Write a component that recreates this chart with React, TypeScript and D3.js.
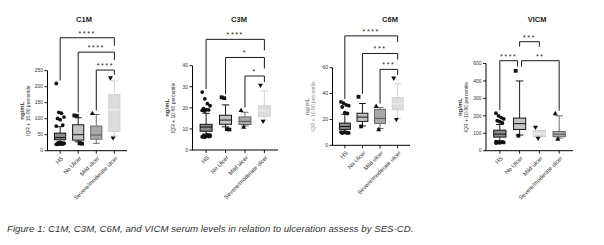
import React from "react";
import * as d3 from "d3";

// ---------- DATA ----------
const groups = ["HS", "No Ulcer", "Mild ulcer", "Severe/moderate ulcer"];

// [p10, q1, median, q3, p90]
const c1mBoxes = [
  [27, 34, 41, 55, 75],
  [28, 33, 50, 81, 103],
  [23, 36, 49, 77, 113],
  [46, 60, 128, 175, 218],
];
const c1mPoints = [
  [210, 120, 117, 105, 101, 97, 80, 77, 25, 24, 23, 22, 21, 21, 20, 24, 22, 23, 20],
  [110, 109, 23, 22],
  [116],
  [228, 40],
];
const c1mTicks = [0, 50, 100, 150, 200, 250];

const c3mBoxes = [
  [7.6, 8.9, 10.9, 12.2, 17.4],
  [11, 12.2, 14.2, 16.5, 21.4],
  [11.4, 12.1, 13.6, 15.7, 17.9],
  [14.2, 15.9, 18.6, 21, 28],
];
const c3mPoints = [
  [27.5, 24.3, 22, 21, 19.6, 19.2, 19, 18.8, 18.5, 7.2, 7, 6.8, 6.6, 6.4, 6.2, 6, 7.1, 6.5],
  [25, 24.6, 9.9, 9.7],
  [18.7, 10.8],
  [30.8, 13.7],
];
const c3mTicks = [0, 10, 20, 30, 40];

const c6mBoxes = [
  [10.6, 12.3, 14.5, 17.2, 24],
  [15, 18.5, 21.8, 24.8, 32.3],
  [13, 16.8, 20.8, 27.8, 29.2],
  [21, 27.5, 32, 37, 47.5],
];
const c6mPoints = [
  [33.5, 32.6, 31.2, 30.6, 29.6, 25.2, 24.6, 10.2, 10, 9.8, 9.6, 9.4, 10.1, 9.7],
  [37.5, 14.6],
  [30, 12],
  [52, 20],
];
const c6mTicks = [0, 20, 40, 60];

const vicmBoxes = [
  [56, 78, 95, 118, 150],
  [90, 122, 155, 187, 400],
  [80, 80, 100, 116, 116],
  [72, 80, 95, 110, 200],
];
const vicmPoints = [
  [215, 200, 190, 182, 172, 166, 160, 52, 50, 48, 47, 46, 45, 49, 44],
  [458, 86],
  [135, 72],
  [212, 66],
];
const vicmTicks = [0, 100, 200, 300, 400, 500];
const vicmTickLabels = ["0", "100", "200", "300", "400", "600"];

// comparisons: a, b = group index; level in data units
const c1mComps = [
  { a: 0, b: 3, label: "****", level: 353, legA: "max", legB: 8 },
  { a: 1, b: 3, label: "****", level: 308, legA: "max", legB: 8 },
  { a: 2, b: 3, label: "****", level: 252, legA: "max", legB: "max" },
];
const c3mComps = [
  { a: 0, b: 3, label: "****", level: 52.5, legA: "max", legB: 11 },
  { a: 1, b: 3, label: "*", level: 43.9, legA: "max", legB: 11 },
  { a: 2, b: 3, label: "*", level: 35.1, legA: "max", legB: "max" },
];
const c6mComps = [
  { a: 0, b: 3, label: "****", level: 84.6, legA: "max", legB: 6 },
  { a: 1, b: 3, label: "***", level: 71, legA: "max", legB: 6 },
  { a: 2, b: 3, label: "***", level: 58.7, legA: "max", legB: "max" },
];
const vicmComps = [
  { a: 0, b: 1, label: "****", level: 516, legA: "max", legB: 6, offB: -2 },
  { a: 1, b: 3, label: "**", level: 516, legA: 6, legB: "max", offA: 2 },
  { a: 1, b: 2, label: "***", level: 625, legA: 5, legB: 5 },
];

const caption =
  "Figure 1: C1M, C3M, C6M, and VICM serum levels in relation to ulceration assess by SES-CD.";

// ---------- STYLES / LAYOUT ----------
const dark = { fill: "#8a8a8a", stroke: "#000", med: "#000" };
const mid = { fill: "#c2c2c2", stroke: "#000", med: "#000" };
const gray = { fill: "#a9a9a9", stroke: "#5e5e5e", med: "#4a4a4a" };
const light = { fill: "#dcdcdc", stroke: "#cfcfcf", med: "#f4f4f4" };

const FONT = "'Liberation Sans', Arial, sans-serif";

const panels = [
  {
    title: "C1M", titleX: 84, boxes: c1mBoxes, points: c1mPoints, ticks: c1mTicks,
    tickLabels: c1mTicks.map(String), comps: c1mComps, max: 250,
    x0: 47.5, x1: 127, y0: 150.7, y1: 70.7,
    styles: [dark, mid, gray, light], shapes: ["circle", "square", "triUp", "triDown"],
    labColor: "#333",
  },
  {
    title: "C3M", titleX: 239, boxes: c3mBoxes, points: c3mPoints, ticks: c3mTicks,
    tickLabels: c3mTicks.map(String), comps: c3mComps, max: 40,
    x0: 192.5, x1: 278, y0: 150, y1: 65.7,
    styles: [dark, mid, gray, light], shapes: ["circle", "square", "triUp", "triDown"],
    labColor: "#333",
  },
  {
    title: "C6M", titleX: 390, boxes: c6mBoxes, points: c6mPoints, ticks: c6mTicks,
    tickLabels: c6mTicks.map(String), comps: c6mComps, max: 60,
    x0: 332.5, x1: 410, y0: 145.3, y1: 67.7,
    styles: [dark, mid, gray, light], shapes: ["circle", "square", "triUp", "triDown"],
    labColor: "#8a8a8a",
  },
  {
    title: "VICM", titleX: 537, boxes: vicmBoxes, points: vicmPoints, ticks: vicmTicks,
    tickLabels: vicmTickLabels, comps: vicmComps, max: 500,
    x0: 486, x1: 573, y0: 150.7, y1: 63.5,
    styles: [dark, mid, light, gray], shapes: ["circle", "square", "triDown", "triUp"],
    labColor: "#333",
  },
];

function Marker({ shape, x, y }: { shape: string; x: number; y: number }) {
  const c = "#111";
  if (shape === "circle") return <circle cx={x} cy={y} r={1.9} fill={c} />;
  if (shape === "square") return <rect x={x - 1.9} y={y - 1.9} width={3.8} height={3.8} fill={c} />;
  const sym = d3.symbol().type(d3.symbolTriangle).size(11)();
  return (
    <path d={sym || ""} transform={`translate(${x},${y}) rotate(${shape === "triDown" ? 180 : 0})`} fill={c} />
  );
}

function Panel({ p }: { p: any }) {
  const x = d3.scalePoint<string>().domain(groups).range([p.x0, p.x1]).padding(0.7);
  const y = d3.scaleLinear().domain([0, p.max]).range([p.y0, p.y1]);
  const step = x.step();
  const bw = step * 0.62;
  const cw = bw * 0.62;
  const groupMax = (i: number) => Math.max(p.boxes[i][4], ...p.points[i]);

  return (
    <g fontFamily={FONT}>
      <text x={p.titleX} y={21.5} textAnchor="middle" fontSize={7.5} fontWeight="bold" fill="#222">
        {p.title}
      </text>
      {/* y label */}
      <g transform={`translate(${p.x0 - 24},${(p.y0 + p.y1) / 2}) rotate(-90)`}>
        <text x={0} y={0} textAnchor="middle" fontSize={6} fontWeight="bold" fill={p.labColor}>
          ng/mL
        </text>
        <text x={0} y={6.3} textAnchor="middle" fontSize={5} fill={p.labColor}>
          IQR + 10-90 percentile
        </text>
      </g>
      {/* y axis */}
      <line x1={p.x0} x2={p.x0} y1={p.y0} y2={y(p.max)} stroke="#000" strokeWidth={1} />
      {p.ticks.map((t: number, i: number) => (
        <g key={t}>
          <line x1={p.x0 - 3} x2={p.x0} y1={y(t)} y2={y(t)} stroke="#000" strokeWidth={0.9} />
          <text x={p.x0 - 4.5} y={y(t)} dy="0.35em" textAnchor="end" fontSize={5} fill="#333">
            {p.tickLabels[i]}
          </text>
        </g>
      ))}
      {/* x axis */}
      <line x1={p.x0 - 0.5} x2={p.x1} y1={p.y0} y2={p.y0} stroke="#000" strokeWidth={1} />
      {groups.map((g) => (
        <g key={g}>
          <line x1={x(g)!} x2={x(g)!} y1={p.y0} y2={p.y0 + 3} stroke="#000" strokeWidth={0.9} />
          <text
            transform={`translate(${x(g)! + 2},${p.y0 + 6.5}) rotate(-45)`}
            textAnchor="end"
            dy="0.35em"
            fontSize={5.8}
            fill="#333"
          >
            {g}
          </text>
        </g>
      ))}
      {/* boxes */}
      {groups.map((g, i) => {
        const [p10, q1, med, q3, p90] = p.boxes[i];
        const s = p.styles[i];
        const cx = x(g)!;
        return (
          <g key={g}>
            <line x1={cx} x2={cx} y1={y(p90)} y2={y(q3)} stroke={s.stroke} strokeWidth={0.9} />
            <line x1={cx} x2={cx} y1={y(q1)} y2={y(p10)} stroke={s.stroke} strokeWidth={0.9} />
            <line x1={cx - cw / 2} x2={cx + cw / 2} y1={y(p90)} y2={y(p90)} stroke={s.stroke} strokeWidth={0.9} />
            <line x1={cx - cw / 2} x2={cx + cw / 2} y1={y(p10)} y2={y(p10)} stroke={s.stroke} strokeWidth={0.9} />
            <rect x={cx - bw / 2} y={y(q3)} width={bw} height={y(q1) - y(q3)} fill={s.fill} stroke={s.stroke} strokeWidth={0.9} />
            <line x1={cx - bw / 2} x2={cx + bw / 2} y1={y(med)} y2={y(med)} stroke={s.med} strokeWidth={0.9} />
            {p.points[i].map((v: number, k: number) => {
              const jitter = ((k * 37) % 7) - 3;
              return <Marker key={k} shape={p.shapes[i]} x={cx + (v < q1 || v > q3 ? jitter * 1.3 : 0)} y={y(v)} />;
            })}
          </g>
        );
      })}
      {/* significance brackets */}
      {p.comps.map((c: any, k: number) => {
        const by = y(c.level);
        const xa = x(groups[c.a])! + (c.offA || 0);
        const xb = x(groups[c.b])! + (c.offB || 0);
        const legBottom = (leg: any, gi: number) => (leg === "max" ? y(groupMax(gi)) - 3 : by + leg);
        return (
          <g key={k}>
            <path
              d={`M${xa},${legBottom(c.legA, c.a)}V${by}H${xb}V${legBottom(c.legB, c.b)}`}
              fill="none"
              stroke="#000"
              strokeWidth={0.9}
            />
            <text x={(xa + xb) / 2} y={by - 2} textAnchor="middle" fontSize={7} letterSpacing={1.6} fill="#222">
              {c.label}
            </text>
          </g>
        );
      })}
    </g>
  );
}

export default function App() {
  return (
    <svg width={604} height={245} style={{ position: "absolute", left: 0, top: 0, background: "#fff" }}>
      <rect width={604} height={245} fill="#fff" />
      {panels.map((p) => (
        <Panel key={p.title} p={p} />
      ))}
      <text x={7} y={232} fontFamily={FONT} fontStyle="italic" fontSize={9.7} fill="#333">
        {caption}
      </text>
    </svg>
  );
}
